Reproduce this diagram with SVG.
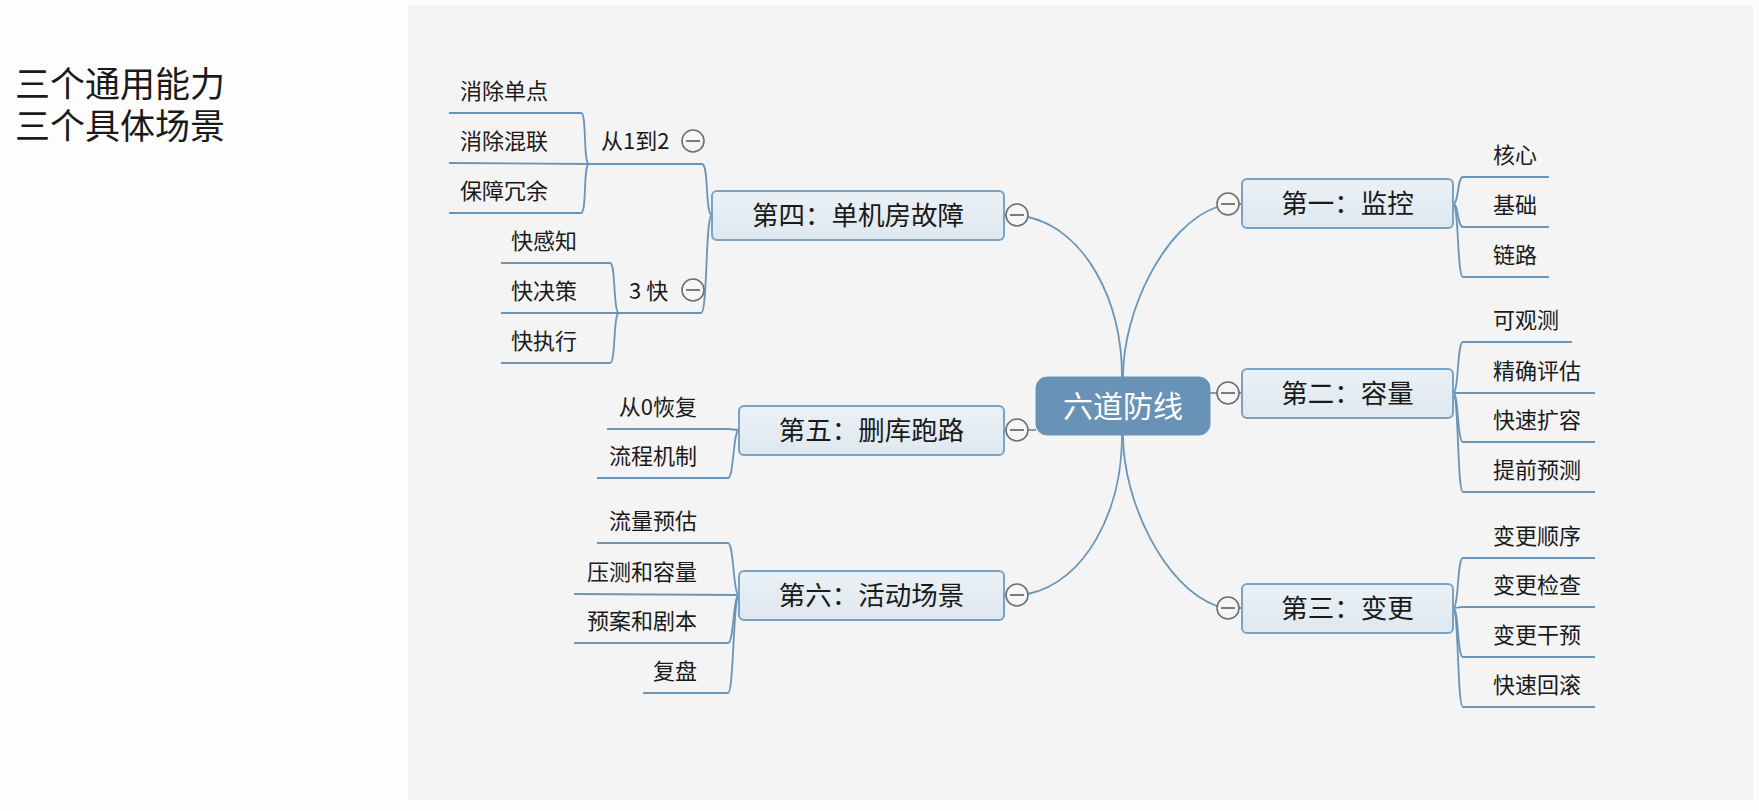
<svg xmlns="http://www.w3.org/2000/svg" width="1759" height="811" viewBox="0 0 1759 811">
<defs>
<linearGradient id="ng" x1="0" y1="0" x2="0" y2="1">
<stop offset="0" stop-color="#eaf1f6"/>
<stop offset="1" stop-color="#dfe8ef"/>
</linearGradient>
<style>
.t{font-family:"Noto Sans CJK SC","Noto Sans",sans-serif;fill:#1a1a1a}
.leaf{font-size:22px}
.nt{font-size:26.5px;text-anchor:middle}
.box{fill:url(#ng);stroke:#7aa2c3;stroke-width:2}
.ln{fill:none;stroke:#6b95b8;stroke-width:1.8}
.cc{fill:#f6f6f6;stroke:#6e6e6e;stroke-width:1.6}
.cm{stroke:#6e6e6e;stroke-width:1.8}
.r{text-anchor:end}
</style>
</defs>
<rect x="0" y="0" width="1759" height="811" fill="#fdfdfd"/>
<rect x="408" y="5" width="1345" height="795" fill="#f4f4f4"/>
<g id="title">
<text class="t" font-size="35"><tspan x="15" y="97">三个通用能力</tspan><tspan x="15" y="139">三个具体场景</tspan></text>
</g>
<g id="connectors">
<path class="ln" d="M1123,377 C1123,310 1165,225 1217,207"/>
<path class="ln" d="M1123,435 C1123,502 1165,588 1217,606"/>
<path class="ln" d="M1122,377 C1122,300 1085,230 1028,217"/>
<path class="ln" d="M1122,435 C1122,512 1085,582 1028,594"/>
<path class="ln" d="M1210,393 L1217,393"/>
<path class="ln" d="M1028,430 L1036,430"/>
<path class="ln" d="M1239,204 L1242,204 M1239,393 L1242,393 M1239,608 L1242,608 M1004,215 L1006,215 M1004,430 L1006,430 M1004,595 L1006,595"/>
<path class="ln" d="M1453,204 C1459,204 1457,177 1463,177 L1549,177"/>
<path class="ln" d="M1453,204 C1459,204 1457,227 1463,227 L1549,227"/>
<path class="ln" d="M1453,204 C1459,204 1457,277 1463,277 L1549,277"/>
<path class="ln" d="M1453,393 C1459,393 1457,342 1463,342 L1572,342"/>
<path class="ln" d="M1453,393 L1595,393"/>
<path class="ln" d="M1453,393 C1459,393 1457,442 1463,442 L1595,442"/>
<path class="ln" d="M1453,393 C1459,393 1457,492 1463,492 L1595,492"/>
<path class="ln" d="M1453,608 C1459,608 1457,558 1463,558 L1595,558"/>
<path class="ln" d="M1453,608 C1459,608 1457,607 1463,607 L1595,607"/>
<path class="ln" d="M1453,608 C1459,608 1457,657 1463,657 L1595,657"/>
<path class="ln" d="M1453,608 C1459,608 1457,707 1463,707 L1595,707"/>
<path class="ln" d="M712,215 C705,215 709,164 702,164 L589,164"/>
<path class="ln" d="M712,215 C705,215 708,313 701,313 L619,313"/>
<path class="ln" d="M589,164 C583,164 587,113 581,113 L449,113"/>
<path class="ln" d="M589,164 L449,163"/>
<path class="ln" d="M589,164 C583,164 587,213 581,213 L449,213"/>
<path class="ln" d="M619,313 C613,313 616,263 610,263 L501,263"/>
<path class="ln" d="M619,313 L501,313"/>
<path class="ln" d="M619,313 C613,313 616,363 610,363 L501,363"/>
<path class="ln" d="M739,430 C733,430 734,429 728,429 L607,429"/>
<path class="ln" d="M739,430 C733,430 734,478 728,478 L597,478"/>
<path class="ln" d="M739,595 C733,595 734,543 728,543 L597,543"/>
<path class="ln" d="M739,595 L574,594"/>
<path class="ln" d="M739,595 C733,595 734,643 728,643 L574,643"/>
<path class="ln" d="M739,595 C733,595 734,693 728,693 L643,693"/>
</g>
<g id="center">
<rect x="1036" y="377" width="174" height="58" rx="11" fill="#6892b6" stroke="#6a94b8" stroke-width="1"/>
<text x="1123" y="417" font-size="30" text-anchor="middle" fill="#ffffff" font-family="Noto Sans CJK SC, Noto Sans, sans-serif">六道防线</text>
</g>
<g id="n1">
<rect class="box" x="1242" y="179" width="211" height="49" rx="5"/>
<text class="t nt" x="1347.5" y="213">第一：监控</text>
<circle class="cc" cx="1228" cy="204" r="11"/><path class="cm" d="M1221,204 H1235"/>
</g>
<g id="n2">
<rect class="box" x="1242" y="369" width="211" height="49" rx="5"/>
<text class="t nt" x="1347.5" y="403">第二：容量</text>
<circle class="cc" cx="1228" cy="393" r="11"/><path class="cm" d="M1221,393 H1235"/>
</g>
<g id="n3">
<rect class="box" x="1242" y="584" width="211" height="49" rx="5"/>
<text class="t nt" x="1347.5" y="618">第三：变更</text>
<circle class="cc" cx="1228" cy="608" r="11"/><path class="cm" d="M1221,608 H1235"/>
</g>
<g id="n4">
<rect class="box" x="712" y="191" width="292" height="49" rx="5"/>
<text class="t nt" x="858" y="225">第四：单机房故障</text>
<circle class="cc" cx="1017" cy="215" r="11"/><path class="cm" d="M1010,215 H1024"/>
</g>
<g id="n5">
<rect class="box" x="739" y="406" width="265" height="49" rx="5"/>
<text class="t nt" x="871.5" y="440">第五：删库跑路</text>
<circle class="cc" cx="1017" cy="430" r="11"/><path class="cm" d="M1010,430 H1024"/>
</g>
<g id="n6">
<rect class="box" x="739" y="571" width="265" height="49" rx="5"/>
<text class="t nt" x="871.5" y="605">第六：活动场景</text>
<circle class="cc" cx="1017" cy="595" r="11"/><path class="cm" d="M1010,595 H1024"/>
</g>
<g id="n1-leaves">
<text class="t leaf" x="1493" y="163">核心</text>
<text class="t leaf" x="1493" y="213">基础</text>
<text class="t leaf" x="1493" y="263">链路</text>
</g>
<g id="n2-leaves">
<text class="t leaf" x="1493" y="328">可观测</text>
<text class="t leaf" x="1493" y="379">精确评估</text>
<text class="t leaf" x="1493" y="428">快速扩容</text>
<text class="t leaf" x="1493" y="478">提前预测</text>
</g>
<g id="n3-leaves">
<text class="t leaf" x="1493" y="544">变更顺序</text>
<text class="t leaf" x="1493" y="593">变更检查</text>
<text class="t leaf" x="1493" y="643">变更干预</text>
<text class="t leaf" x="1493" y="693">快速回滚</text>
</g>
<g id="n4a">
<text class="t leaf" x="601" y="149">从1到2</text>
<circle class="cc" cx="693" cy="141" r="11"/><path class="cm" d="M686,141 H700"/>
</g>
<g id="n4a-leaves">
<text class="t leaf" x="460" y="99">消除单点</text>
<text class="t leaf" x="460" y="149">消除混联</text>
<text class="t leaf" x="460" y="199">保障冗余</text>
</g>
<g id="n4b">
<text class="t leaf" x="629" y="299">3 快</text>
<circle class="cc" cx="693" cy="290" r="11"/><path class="cm" d="M686,290 H700"/>
</g>
<g id="n4b-leaves">
<text class="t leaf" x="511" y="249">快感知</text>
<text class="t leaf" x="511" y="299">快决策</text>
<text class="t leaf" x="511" y="349">快执行</text>
</g>
<g id="n5-leaves">
<text class="t leaf r" x="697" y="415">从0恢复</text>
<text class="t leaf r" x="697" y="464">流程机制</text>
</g>
<g id="n6-leaves">
<text class="t leaf r" x="697" y="529">流量预估</text>
<text class="t leaf r" x="697" y="580">压测和容量</text>
<text class="t leaf r" x="697" y="629">预案和剧本</text>
<text class="t leaf r" x="697" y="679">复盘</text>
</g>
</svg>
